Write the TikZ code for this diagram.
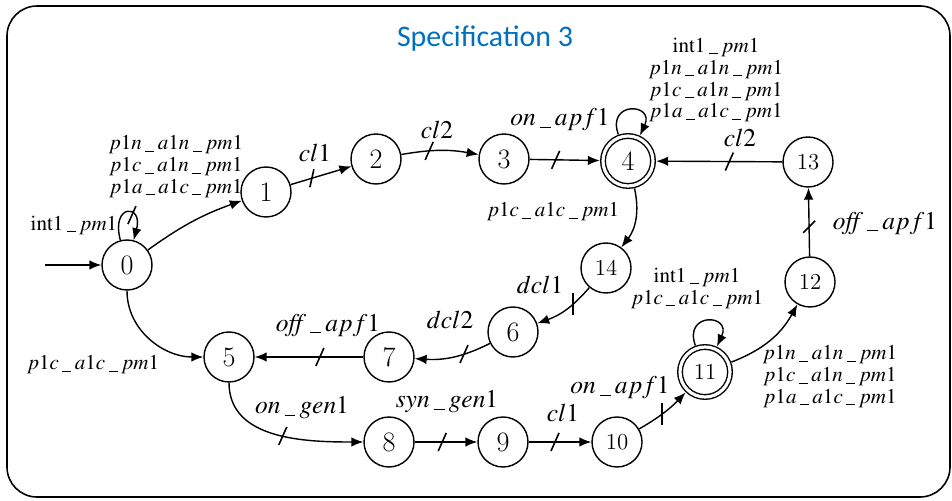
\documentclass[tikz,border=0pt]{standalone}
\usepackage{mathptmx}
\usepackage[no-math]{fontspec}
\usepackage{tikz}
\usetikzlibrary{arrows.meta,positioning}
\newfontfamily\titlefont{Carlito}
\definecolor{spectitle}{HTML}{0070C0}
\newcommand{\ev}[1]{\ensuremath{#1}}
\newcommand{\us}{\mskip3mu\rule[-0.8pt]{0.42em}{0.45pt}\mskip3mu}
\tikzset{
  stnode/.style={circle, draw, line width=0.8pt, minimum size=1cm, inner sep=0pt, fill=white, font=\fontsize{16}{16}\selectfont},
  stwide/.style={stnode, font=\fontsize{13}{13}\selectfont},
  stacc/.style={double, double distance=1.8pt, outer sep=1.8pt},
  evlabel/.style={font=\fontsize{12}{12.5}\selectfont, inner sep=1pt, align=center},
  evsingle/.style={font=\fontsize{14.5}{15}\selectfont, inner sep=1pt},
  evarrow/.style={-{Latex[length=2.4mm,width=1.9mm]}, line width=0.8pt},
  cutmark/.style={line width=0.9pt},
  framebox/.style={line width=0.9pt, rounded corners=0.6cm}
}

\begin{document}
\begin{tikzpicture}[x=0.02cm,y=0.02cm]

  \useasboundingbox (0,0) rectangle (952,500);
  \draw[framebox] (7,3) rectangle (950,494);
  \node[font=\titlefont\fontsize{17}{20}\selectfont, text=spectitle] (title) at (485,461) {Specification 3};

  % states
  \node[stnode] (q0) at (127,235) {0};
  \node[stnode] (q1) at (266,308) {1};
  \node[stnode] (q2) at (376,341) {2};
  \node[stnode] (q3) at (504,341) {3};
  \node[stnode, stacc] (q4) at (628,339) {4};
  \node[stnode] (q5) at (229,143) {5};
  \node[stnode] (q6) at (513,168) {6};
  \node[stnode] (q7) at (389,143) {7};
  \node[stnode] (q8) at (389,58) {8};
  \node[stnode] (q9) at (503,58) {9};
  \node[stwide] (q10) at (617,58) {10};
  \node[stwide, stacc] (q11) at (705,128) {11};
  \node[stwide] (q12) at (810,218) {12};
  \node[stwide] (q13) at (808,338) {13};
  \node[stwide] (q14) at (606,232) {14};

  % initial arrow
  \coordinate (init) at (45,235);
  \draw[evarrow] (init) -- (q0);

  % upper path
  \draw[evarrow] (q0) to[out=105,in=75,min distance=7.6mm] coordinate[pos=0.65] (k00) (q0);
  \draw[evarrow] (q0) to[bend left=8] (q1);
  \draw[evarrow] (q1) -- coordinate[pos=0.35] (k12) (q2);
  \draw[evarrow] (q2) to[bend left=10] coordinate[pos=0.35] (k23) (q3);
  \draw[evarrow] (q3) -- coordinate[pos=0.37] (k34) (q4);
  \draw[evarrow] (q4) to[out=110,in=65,min distance=7.2mm] (q4);
  \draw[evarrow] (q4) to[bend left=25] (q14);
  \draw[evarrow] (q14) to[bend left=15] coordinate[pos=0.35] (k146) (q6);
  \draw[evarrow] (q6) to[bend left=15] coordinate[pos=0.35] (k67) (q7);
  \draw[evarrow] (q7) -- coordinate[pos=0.4] (k75) (q5);

  % lower path
  \draw[evarrow] (q0) to[out=-90,in=180] (q5);
  \draw[evarrow] (q5) to[out=-90,in=180] coordinate[pos=0.55] (k58) (q8);
  \draw[evarrow] (q8) -- coordinate[pos=0.44] (k89) (q9);
  \draw[evarrow] (q9) -- coordinate[pos=0.42] (k910) (q10);
  \draw[evarrow] (q10) to[bend right=8] coordinate[pos=0.45] (k1011) (q11);
  \draw[evarrow] (q11) to[out=110,in=65,min distance=7.2mm] (q11);
  \draw[evarrow] (q11) to[bend right=20] (q12);
  \draw[evarrow] (q12) -- coordinate[pos=0.43] (k1213) (q13);
  \draw[evarrow] (q13) -- coordinate[pos=0.42] (k134) (q4);

  % controllable marks
  \foreach \k in {k00,k23,k34,k67,k75,k58,k89,k910,k134}
    \draw[cutmark] ([shift={(-4,-9)}]\k) -- ([shift={(4,9)}]\k);
  \draw[cutmark] ([shift={(-6,-6)}]k1213) -- ([shift={(6,6)}]k1213);
  \draw[cutmark] ([shift={(-2,-9)}]k12) -- ([shift={(2,9)}]k12);
  \foreach \k in {k146,k1011}
    \draw[cutmark] ([shift={(0,-11)}]\k) -- ([shift={(0,11)}]\k);

  % event labels
  \node[evlabel] (l00) at (74,275) {\ev{\mathrm{int1}\us pm1}};
  \node[evlabel] (l01) at (176,333) {\ev{p1n\us a1n\us pm1}\\ \ev{p1c\us a1n\us pm1}\\ \ev{p1a\us a1c\us pm1}};
  \node[evsingle] (l12) at (315,347) {\ev{cl1}};
  \node[evsingle] (l23) at (437,370) {\ev{cl2}};
  \node[evsingle] (l34) at (560,380) {\ev{on\us apf1}};
  \node[evlabel] (l44) at (716,420) {\ev{\mathrm{int1}\us pm1}\\ \ev{p1n\us a1n\us pm1}\\ \ev{p1c\us a1n\us pm1}\\ \ev{p1a\us a1c\us pm1}};
  \node[evlabel] (l414) at (553,288) {\ev{p1c\us a1c\us pm1}};
  \node[evsingle] (l134) at (740,362) {\ev{cl2}};
  \node[evsingle] (l1213) at (885,277) {\ev{\mathit{off}\us apf1}};
  \node[evlabel] (l1112) at (830,123) {\ev{p1n\us a1n\us pm1}\\ \ev{p1c\us a1n\us pm1}\\ \ev{p1a\us a1c\us pm1}};
  \node[evlabel] (l1111) at (697,212) {\ev{\mathrm{int1}\us pm1}\\ \ev{p1c\us a1c\us pm1}};
  \node[evsingle] (l1011) at (620,112) {\ev{on\us apf1}};
  \node[evsingle] (l910) at (563,87) {\ev{cl1}};
  \node[evsingle] (l89) at (447,98) {\ev{syn\us gen1}};
  \node[evsingle] (l58) at (302,92) {\ev{on\us gen1}};
  \node[evsingle] (l146) at (540,215) {\ev{dcl1}};
  \node[evsingle] (l67) at (450,180) {\ev{dcl2}};
  \node[evsingle] (l75) at (328,175) {\ev{\mathit{off}\us apf1}};
  \node[evlabel] (l05) at (93,135) {\ev{p1c\us a1c\us pm1}};

\end{tikzpicture}
\end{document}
